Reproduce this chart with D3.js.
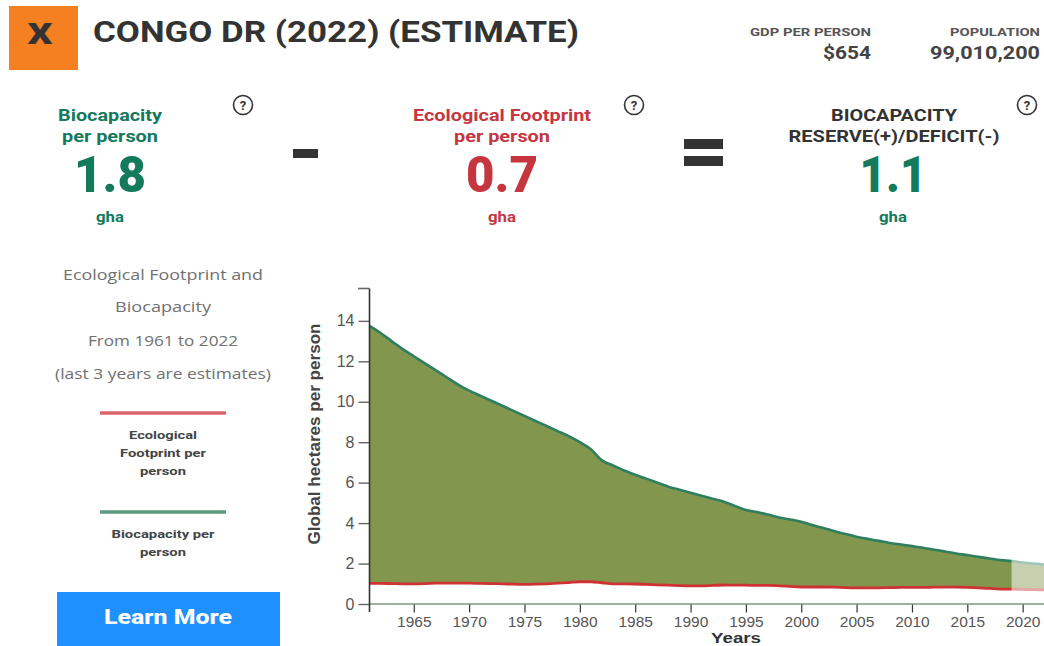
<!DOCTYPE html>
<html><head><meta charset="utf-8">
<script src="https://cdn.jsdelivr.net/npm/d3@7/dist/d3.min.js"></script>
<style>html,body{margin:0;padding:0;background:#fff}svg{display:block}text{font-family:Roboto,sans-serif}</style>
</head><body><svg id="c" width="1044" height="646"></svg>
<script>
const years = d3.range(1961, 2023);
const biocapacity = [13.75,13.4,13.0,12.6,12.25,11.9,11.55,11.2,10.85,10.55,10.3,10.05,9.8,9.55,9.3,9.05,8.8,8.55,8.3,8.0,7.65,7.1,6.85,6.6,6.39,6.2,6.0,5.8,5.65,5.5,5.35,5.2,5.06,4.85,4.65,4.55,4.42,4.28,4.18,4.07,3.9,3.76,3.6,3.46,3.33,3.22,3.12,3.02,2.94,2.86,2.78,2.68,2.6,2.5,2.42,2.33,2.25,2.17,2.12,2.05,2.0,1.95];
const footprint = [1.02,1.02,1.01,1.0,1.0,1.01,1.03,1.03,1.03,1.03,1.02,1.01,1.0,0.98,0.97,0.98,1.0,1.03,1.06,1.1,1.1,1.05,1.0,1.0,0.99,0.97,0.95,0.93,0.91,0.9,0.9,0.92,0.94,0.93,0.93,0.92,0.92,0.9,0.87,0.84,0.84,0.84,0.83,0.81,0.8,0.8,0.8,0.81,0.82,0.82,0.82,0.83,0.83,0.83,0.82,0.8,0.77,0.74,0.74,0.72,0.71,0.7];
const yTicks = [0,2,4,6,8,10,12,14];
const xTicks = [1965,1970,1975,1980,1985,1990,1995,2000,2005,2010,2015,2020];
const legendEF = ["Ecological","Footprint per","person"];
const legendEFWidths = [68,86,46];
const legendBio = ["Biocapacity per","person"];
const legendBioWidths = [103,46];
const introLines = ["Ecological Footprint and","Biocapacity","From 1961 to 2022","(last 3 years are estimates)"];
const introWidths = [200,96,150,216];
const rows = years.map((y,i)=>({y,b:biocapacity[i],f:footprint[i]}));
const GREEN="#137a5c",RED="#c5363f",DARK="#333",OLIVE="#82964d";

const svg=d3.select("#c");
const x=d3.scaleLinear().domain([1961,2022]).range([369.5,1044.8]);
const y=d3.scaleLinear().domain([0,15.6]).range([604,288.5]);

function t(s,px,py,size,weight,fill,anchor="middle",w=null,extra={}){
  const e=svg.append("text").attr("x",px).attr("y",py).attr("font-size",size).attr("font-weight",weight).attr("fill",fill).attr("text-anchor",anchor).text(s);
  if(w) e.attr("textLength",w).attr("lengthAdjust","spacingAndGlyphs");
  Object.entries(extra).forEach(([k,v])=>e.attr(k,v));
  return e;
}
const OS={style:"font-family:'Open Sans',sans-serif"}, LS={style:"font-family:'Liberation Sans',sans-serif"};
// header
svg.append("rect").attr("x",9).attr("y",6).attr("width",69).attr("height",64).attr("fill","#f58021");
t("X",40,44,30,900,DARK,"middle",25);
t("CONGO DR (2022) (ESTIMATE)",93,42,29,700,DARK,"start",486);
t("GDP PER PERSON",871,36,11.5,700,"#555","end",121);
t("$654",871,59,18,700,"#444","end",48);
t("POPULATION",1040,36,11.5,700,"#555","end",90);
t("99,010,200",1040,59,18,700,"#444","end",110);
// equation
t("Biocapacity",110,121,16.5,700,GREEN,"middle",104);
t("per person",110,142,16.5,700,GREEN,"middle",96);
t("1.8",110,192,50,900,GREEN,"middle",72);
t("gha",110,222,14,700,GREEN,"middle",28);
t("Ecological Footprint",502,121,16.5,700,RED,"middle",178);
t("per person",502,142,16.5,700,RED,"middle",96);
t("0.7",502,192,50,900,RED,"middle",72);
t("gha",502,222,14,700,RED,"middle",28);
t("BIOCAPACITY",894,121,16.5,700,DARK,"middle",126);
t("RESERVE(+)/DEFICIT(-)",894,142,16.5,700,DARK,"middle",211);
t("1.1",893,192,50,900,GREEN,"middle",67);
t("gha",893,222,14,700,GREEN,"middle",28);
svg.append("rect").attr("x",293).attr("y",149).attr("width",25).attr("height",9).attr("fill",DARK);
svg.append("rect").attr("x",684).attr("y",139).attr("width",39).attr("height",10).attr("fill",DARK);
svg.append("rect").attr("x",684).attr("y",156).attr("width",39).attr("height",10).attr("fill",DARK);
[[243,105],[634,105],[1027,105]].forEach(([cx,cy])=>{
  svg.append("circle").attr("cx",cx).attr("cy",cy).attr("r",9.5).attr("fill","#fff").attr("stroke",DARK).attr("stroke-width",1.6);
  t("?",cx,cy+4.5,13,700,DARK);
});
// left panel
const introY=[280,312,346,379];
introLines.forEach((s,i)=>t(s,163,introY[i],15,400,"#707070","middle",introWidths[i],OS));
svg.append("line").attr("x1",100).attr("x2",226).attr("y1",413).attr("y2",413).attr("stroke","#d9666b").attr("stroke-width",3.5);
legendEF.forEach((s,i)=>t(s,163,439+i*18,11.5,700,"#444","middle",legendEFWidths[i]));
svg.append("line").attr("x1",100).attr("x2",226).attr("y1",512).attr("y2",512).attr("stroke","#5f9a80").attr("stroke-width",3.5);
legendBio.forEach((s,i)=>t(s,163,538+i*18,11.5,700,"#444","middle",legendBioWidths[i]));
svg.append("rect").attr("x",57).attr("y",592).attr("width",223).attr("height",54).attr("fill","#1e90ff");
t("Learn More",168,624,21,800,"#fff","middle",128);

// chart
const lastObserved=2019;
const area=d3.area().curve(d3.curveMonotoneX).x(d=>x(d.y)).y0(d=>y(d.f)).y1(d=>y(d.b));
svg.append("path").datum(rows).attr("d",area).attr("fill",OLIVE);
const lineB=d3.line().curve(d3.curveMonotoneX).x(d=>x(d.y)).y(d=>y(d.b));
const lineF=d3.line().curve(d3.curveMonotoneX).x(d=>x(d.y)).y(d=>y(d.f));
svg.append("path").datum(rows).attr("d",lineB).attr("fill","none").attr("stroke","#2f7f5f").attr("stroke-width",2.6);
svg.append("path").datum(rows).attr("d",lineF).attr("fill","none").attr("stroke","#cf3232").attr("stroke-width",2.8);
svg.append("rect").attr("x",x(lastObserved)).attr("y",y(2.6)).attr("width",1044-x(lastObserved)).attr("height",y(0.3)-y(2.6)).attr("fill","#fff").attr("opacity",0.55);
// baseline
svg.append("line").attr("x1",x(1961)).attr("x2",1044).attr("y1",y(0)).attr("y2",y(0)).attr("stroke","#9fb0a5").attr("stroke-width",2);

const ax=svg.append("g").attr("transform",`translate(0,${y(0)+0.5})`).call(d3.axisBottom(x).tickValues(xTicks).tickFormat(d3.format("d")).tickSize(8).tickSizeOuter(0));
ax.select(".domain").remove();
ax.selectAll("line").attr("stroke","#333").attr("stroke-width",1.2);
ax.selectAll("text").attr("font-size",15.5).attr("fill","#555").attr("dy",0).attr("y",22.5).style("font-family","Liberation Sans, sans-serif");
const ay=svg.append("g").attr("transform",`translate(${x(1961)},0)`).call(d3.axisLeft(y).tickValues(yTicks).tickFormat(d3.format("d")).tickSize(11).tickPadding(4).tickSizeOuter(0));
ay.select(".domain").remove();
ay.selectAll("line").attr("stroke","#666").attr("stroke-width",1.4);
ay.selectAll("text").attr("font-size",16).attr("fill","#555").style("font-family","Liberation Sans, sans-serif");
svg.append("line").attr("x1",x(1961)).attr("x2",x(1961)).attr("y1",288.5).attr("y2",612).attr("stroke","#333").attr("stroke-width",1.6);
svg.append("line").attr("x1",358).attr("x2",x(1961)).attr("y1",288.5).attr("y2",288.5).attr("stroke","#666").attr("stroke-width",1.6);
t("Global hectares per person",0,0,16.5,700,"#444","middle",221,{transform:"translate(320,434) rotate(-90)",...LS});
t("Years",736,642.8,14,700,"#333","middle",50,LS);
</script></body></html>
